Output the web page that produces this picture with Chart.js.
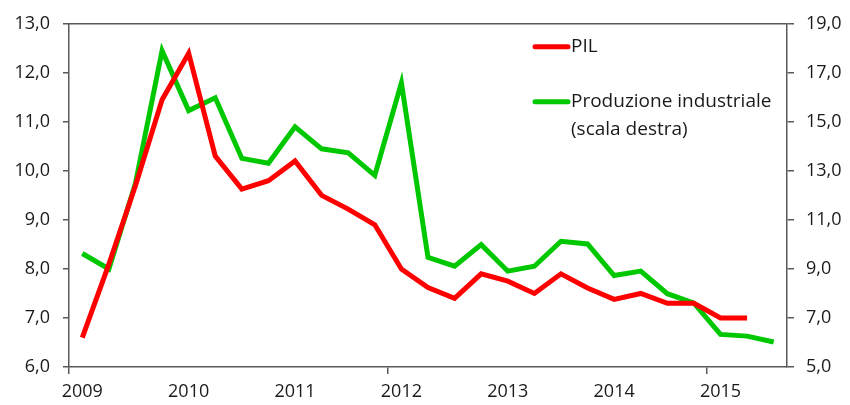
<!DOCTYPE html>
<html>
<head>
<meta charset="utf-8">
<script src="https://cdn.jsdelivr.net/npm/chart.js@4"></script>
<style>
  body { margin: 0; background: #fff; }
  #wrap { width: 850px; height: 405px; }
</style>
</head>
<body>
<div id="wrap"><canvas id="myChart" width="850" height="405"></canvas></div>
<script>
// quarterly categories, 2009 Q1 .. 2015 Q3
const quarters = [
    '2009 T1', '2009 T2', '2009 T3', '2009 T4',
    '2010 T1', '2010 T2', '2010 T3', '2010 T4',
    '2011 T1', '2011 T2', '2011 T3', '2011 T4',
    '2012 T1', '2012 T2', '2012 T3', '2012 T4',
    '2013 T1', '2013 T2', '2013 T3', '2013 T4',
    '2014 T1', '2014 T2', '2014 T3', '2014 T4',
    '2015 T1', '2015 T2', '2015 T3'
];
const years = ['2009', '2010', '2011', '2012', '2013', '2014', '2015'];

// PIL (left scale)
const pil = [6.6, 8.1, 9.7, 11.45, 12.4, 10.3, 9.63, 9.8, 10.2, 9.5, 9.22, 8.9,
             8.0, 7.62, 7.4, 7.9, 7.75, 7.5, 7.9, 7.61, 7.38, 7.5, 7.3, 7.3,
             7.0, 7.0];
// Produzione industriale (right scale)
const prod = [9.63, 9.0, 12.5, 17.9, 15.46, 15.98, 13.51, 13.31, 14.8, 13.9, 13.74, 12.82,
              16.59, 9.47, 9.11, 9.99, 8.91, 9.11, 10.13, 10.02, 8.73, 8.91, 7.99, 7.61,
              6.33, 6.26, 6.02];

const leftTicks = { min: 6, max: 13, step: 1 };
const rightTicks = { min: 5, max: 19, step: 2 };

const FONT = { family: "'Open Sans', sans-serif", size: 18 };
const LEGEND_SIZE = 19;
const TEXT = '#1a1a1a';
const AXIS = '#595959';

function comma(v) {
    return v.toFixed(1).replace('.', ',');
}

// draws the top frame line and the legend inside the plot
const frameAndLegend = {
    id: 'frameAndLegend',
    afterDraw(chart) {
        const ctx = chart.ctx;
        const area = chart.chartArea;
        ctx.save();
        ctx.strokeStyle = AXIS;
        ctx.lineWidth = 1.5;
        ctx.beginPath();
        ctx.moveTo(area.left, area.top);
        ctx.lineTo(area.right, area.top);
        ctx.stroke();

        ctx.font = LEGEND_SIZE + 'px ' + FONT.family;
        ctx.fillStyle = TEXT;
        ctx.textBaseline = 'middle';
        const x0 = area.left + 466;
        const rows = [area.top + 23, area.top + 78];
        chart.data.datasets.forEach((ds, i) => {
            const y = rows[i];
            ctx.strokeStyle = ds.borderColor;
            ctx.lineWidth = 5;
            ctx.lineCap = 'round';
            ctx.beginPath();
            ctx.moveTo(x0, y);
            ctx.lineTo(x0 + 33, y);
            ctx.stroke();
            ds.label.split('\n').forEach((line, j) => {
                ctx.fillText(line, x0 + 36, y + j * 28);
            });
        });
        ctx.restore();
    }
};

const config = {
    type: 'line',
    data: {
        labels: quarters,
        datasets: [
            {
                label: 'PIL',
                data: pil,
                borderColor: '#ff0000',
                borderWidth: 5,
                pointRadius: 0,
                yAxisID: 'y',
                tension: 0
            },
            {
                label: 'Produzione industriale\n(scala destra)',
                data: prod,
                borderColor: '#00c800',
                borderWidth: 5,
                pointRadius: 0,
                yAxisID: 'y2',
                tension: 0
            }
        ]
    },
    options: {
        responsive: false,
        animation: false,
        layout: { padding: { top: 22, left: 0, right: 0, bottom: 0 } },
        plugins: {
            legend: { display: false },
            tooltip: { enabled: false }
        },
        scales: {
            x: {
                offset: true,
                grid: {
                    offset: true,
                    drawOnChartArea: false,
                    tickLength: 7,
                    lineWidth: 1.5,
                    color: (c) => (c.index % 12 === 0 ? AXIS : 'rgba(0,0,0,0)')
                },
                border: { display: true, color: AXIS, width: 1.5 },
                ticks: {
                    autoSkip: false,
                    maxRotation: 0,
                    padding: 7,
                    color: TEXT,
                    font: FONT,
                    callback: (v, i) => (i % 4 === 0 ? years[i / 4] : '')
                },
                afterFit: (s) => { s.height = 38; }
            },
            y: {
                position: 'left',
                min: leftTicks.min,
                max: leftTicks.max,
                ticks: {
                    stepSize: leftTicks.step,
                    color: TEXT,
                    font: FONT,
                    padding: 13,
                    callback: (v) => comma(v)
                },
                grid: { drawOnChartArea: false, tickLength: 6, color: AXIS, lineWidth: 1.5 },
                border: { display: true, color: AXIS, width: 1.5 },
                afterFit: (s) => { s.width = 69; }
            },
            y2: {
                position: 'right',
                min: rightTicks.min,
                max: rightTicks.max,
                ticks: {
                    stepSize: rightTicks.step,
                    color: TEXT,
                    font: FONT,
                    padding: 12,
                    callback: (v) => comma(v)
                },
                grid: { drawOnChartArea: false, tickLength: 7, color: AXIS, lineWidth: 1.5 },
                border: { display: true, color: AXIS, width: 1.5 },
                afterFit: (s) => { s.width = 63; }
            }
        }
    },
    plugins: [frameAndLegend]
};

const myChart = new Chart(document.getElementById('myChart'), config);
</script>
</body>
</html>
